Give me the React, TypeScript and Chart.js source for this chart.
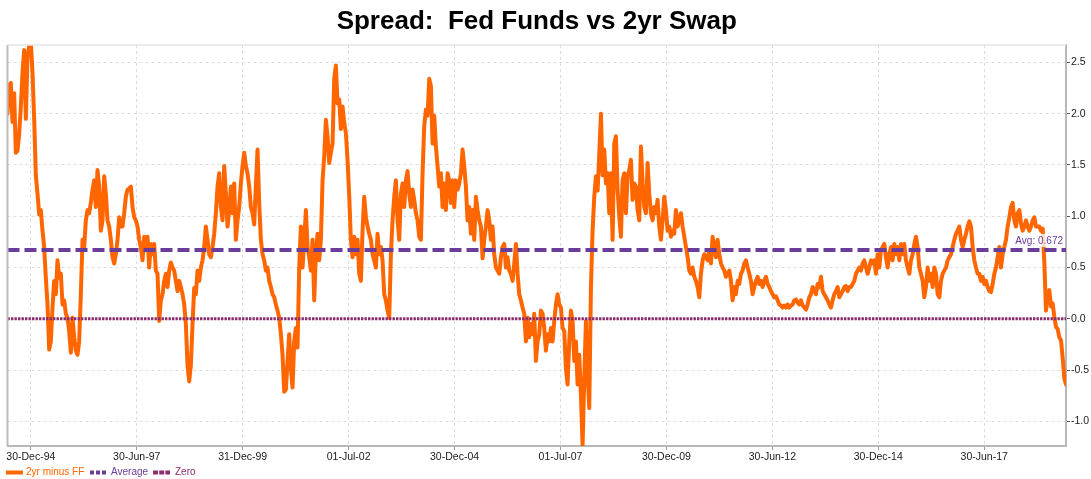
import React, { useEffect, useRef } from "react";
import { Chart, registerables } from "chart.js";

Chart.register(...registerables);

const TITLE = "Spread:  Fed Funds vs 2yr Swap";
const SERIES_LABELS = ["2yr minus FF", "Average", "Zero"];
const SERIES_COLORS = ["#ff6600", "#6a3d9a", "#8c2d6e"];

// x axis expressed in fractional years
const X_START = 1994.45;
const X_END = 2019.43;
const TICK_POSITIONS = [1995.0, 1997.5, 2000.0, 2002.5, 2005.0, 2007.5, 2010.0, 2012.5, 2015.0, 2017.5];
const TICK_LABELS = ["30-Dec-94", "30-Jun-97", "31-Dec-99", "01-Jul-02", "30-Dec-04", "01-Jul-07", "30-Dec-09", "30-Jun-12", "30-Dec-14", "30-Jun-17"];

const Y_MIN = -1.24;
const Y_MAX = 2.67;
const Y_TICKS = [-1.0, -0.5, 0.0, 0.5, 1.0, 1.5, 2.0, 2.5];

const AVERAGE = 0.672;
const ZERO = 0;

// 2yr swap minus fed funds, sampled evenly through time
const SPREAD_1994_1998 = [
  2.00, 2.28, 2.30, 1.92, 2.20, 1.62, 1.64, 1.80, 2.07, 2.40,
  2.62, 1.95, 2.55, 2.66, 2.69, 2.40, 1.95, 1.40, 1.22, 1.02,
  1.06, 0.86, 0.70, 0.40, 0.14, -0.30, -0.22, 0.11, 0.37, 0.24,
  0.57, 0.40, 0.44, 0.14, 0.18, 0.05, 0.01, -0.12, -0.33, 0.01,
  -0.18, -0.31, -0.35, -0.22, 0.24, 0.77, 0.70, 0.96, 1.06, 1.03,
  1.13, 1.26, 1.35, 1.09, 1.45, 1.29, 0.86, 0.96, 1.39, 1.22,
  0.96, 0.90, 0.77, 0.60, 0.54, 0.63, 0.77, 0.99, 0.90, 0.90,
  1.03, 1.19, 1.26, 1.27, 1.29, 1.09, 0.99, 0.96, 0.90, 0.77,
  0.70, 0.57, 0.80, 0.67, 0.80, 0.50, 0.73, 0.63, 0.73, 0.47,
  0.44, -0.02, 0.18, 0.24, 0.37, 0.44, 0.31, 0.47, 0.55, 0.50,
];

const SPREAD_1998_2002 = [
  0.47, 0.37, 0.27, 0.37, 0.31, 0.24, 0.14, -0.05, -0.45, -0.61,
  -0.45, -0.05, 0.30, 0.24, 0.47, 0.37, 0.50, 0.57, 0.70, 0.90,
  0.77, 0.63, 0.60, 0.70, 0.83, 1.03, 1.29, 1.42, 1.09, 0.96,
  1.49, 1.22, 0.90, 1.06, 1.29, 1.03, 1.32, 0.77, 0.96, 1.09,
  1.32, 1.49, 1.62, 1.49, 1.42, 1.29, 1.09, 1.03, 0.92, 1.30,
  1.65, 1.13, 0.77, 0.63, 0.57, 0.47, 0.50, 0.37, 0.31, 0.24,
  0.21, 0.14, 0.08, 0.01, -0.15, -0.35, -0.71, -0.69, -0.41, -0.15,
  -0.48, -0.67, -0.22, -0.09, -0.28, 0.50, 0.90, 0.50, 0.77, 1.06,
  0.70, 0.60, 0.47, 0.77, 0.18, 0.63, 0.83, 0.57, 0.77, 1.35,
  1.58, 1.94, 1.78, 1.52, 1.62, 1.71, 2.34, 2.47, 2.10, 2.14,
  1.85, 2.07, 1.91, 1.81, 1.55,
];

const SPREAD_2002_2006 = [
  1.20, 0.77, 0.60, 0.80, 0.63, 0.77, 0.44, 0.37, 0.86, 1.19,
  0.99, 0.90, 0.83, 0.77, 0.63, 0.57, 0.50, 0.83, 0.63, 0.70,
  0.57, 0.24, 0.18, 0.08, 0.01, 0.63, 0.96, 1.19, 1.35, 0.96,
  0.77, 1.22, 1.32, 1.09, 1.35, 1.44, 1.22, 1.09, 1.26, 1.16,
  1.03, 0.96, 0.80, 0.77, 1.42, 1.88, 2.04, 1.98, 2.34, 2.27,
  1.71, 1.98, 1.68, 1.49, 1.29, 1.42, 1.09, 1.32, 1.06, 1.42,
  1.35, 1.13, 1.35, 1.09, 1.35, 1.26, 1.32, 1.42, 1.65, 1.49,
  1.29, 0.96, 1.09, 0.83, 1.06, 0.77, 1.19, 1.06, 0.96, 0.90,
  0.59, 0.77, 0.90, 1.06, 0.96, 0.77, 0.90, 0.63, 0.50, 0.47,
  0.44, 0.60, 0.70, 0.73, 0.50, 0.60, 0.47, 0.44, 0.37, 0.54,
  0.73, 0.44, 0.24, 0.18, 0.11,
];

const SPREAD_2006_2010 = [
  0.05, -0.22, 0.01, -0.18, -0.05, -0.15, 0.05, -0.41, -0.22, -0.15,
  0.08, 0.05, -0.09, -0.31, -0.15, -0.22, -0.09, -0.22, -0.02, 0.14,
  0.24, 0.14, 0.11, -0.09, -0.12, -0.48, -0.64, -0.22, 0.08, -0.02,
  -0.41, -0.22, -0.64, -0.35, -0.74, -1.24, -0.58, -0.02, -0.54, -0.87,
  0.30, 0.86, 1.19, 1.39, 1.25, 1.60, 2.00, 1.40, 1.65, 1.32,
  1.42, 1.03, 1.42, 0.77, 1.71, 1.78, 1.26, 1.00, 0.80, 1.35,
  1.42, 1.03, 1.39, 1.45, 1.55, 1.16, 1.32, 1.29, 1.06, 0.96,
  1.68, 1.32, 1.09, 1.03, 1.52, 1.22, 1.03, 0.96, 1.09, 1.03,
  1.16, 0.90, 0.77, 0.96, 1.19, 1.06, 0.86, 0.90, 0.80, 0.86,
  0.83, 1.06, 0.90, 0.96, 1.03, 0.90, 0.80, 0.70, 0.60, 0.47,
  0.44, 0.50, 0.41, 0.37, 0.31,
];

const SPREAD_2010_2014 = [
  0.21, 0.44, 0.57, 0.63, 0.60, 0.57, 0.67, 0.54, 0.80, 0.70,
  0.60, 0.77, 0.63, 0.54, 0.50, 0.47, 0.41, 0.44, 0.47, 0.37,
  0.18, 0.31, 0.24, 0.37, 0.34, 0.44, 0.47, 0.54, 0.57, 0.50,
  0.44, 0.37, 0.24, 0.31, 0.37, 0.41, 0.34, 0.37, 0.31, 0.37,
  0.41, 0.34, 0.31, 0.27, 0.24, 0.21, 0.22, 0.18, 0.14, 0.13,
  0.11, 0.13, 0.11, 0.14, 0.11, 0.13, 0.14, 0.18, 0.19, 0.16,
  0.14, 0.18, 0.13, 0.11, 0.09, 0.14, 0.21, 0.24, 0.31, 0.27,
  0.24, 0.34, 0.31, 0.41, 0.27, 0.24, 0.21, 0.18, 0.14, 0.11,
  0.18, 0.24, 0.27, 0.31, 0.21, 0.24, 0.27, 0.31, 0.32, 0.27,
  0.31, 0.31, 0.34, 0.37, 0.44, 0.47, 0.50, 0.47, 0.54, 0.57,
  0.50, 0.44, 0.50, 0.57, 0.54,
];

const SPREAD_2014_2018 = [
  0.57, 0.44, 0.63, 0.50, 0.67, 0.70, 0.73, 0.60, 0.50, 0.63,
  0.70, 0.57, 0.73, 0.63, 0.70, 0.57, 0.73, 0.63, 0.73, 0.57,
  0.50, 0.44, 0.57, 0.63, 0.73, 0.80, 0.70, 0.50, 0.44, 0.37,
  0.21, 0.31, 0.50, 0.37, 0.44, 0.31, 0.50, 0.44, 0.24, 0.21,
  0.37, 0.44, 0.47, 0.50, 0.57, 0.60, 0.63, 0.70, 0.77, 0.83,
  0.86, 0.90, 0.77, 0.70, 0.77, 0.83, 0.90, 0.95, 0.90, 0.70,
  0.57, 0.50, 0.44, 0.44, 0.37, 0.41, 0.34, 0.37, 0.31, 0.27,
  0.26, 0.34, 0.44, 0.50, 0.60, 0.70, 0.50, 0.63, 0.70, 0.77,
  0.90, 0.99, 1.09, 1.13, 0.96, 0.90, 1.03, 1.06, 0.93, 0.86,
  0.90, 0.96, 0.90, 0.86, 0.90, 0.96, 0.99, 0.90, 0.90, 0.90,
  0.86, 0.88,
];

const SPREAD_2019 = [
  0.55, 0.08, 0.21, 0.28, 0.12, 0.15, 0.02, -0.08, -0.10, -0.18, -0.21, -0.38, -0.58, -0.64,
];

const FONT = '"Liberation Sans", Arial, Helvetica, sans-serif';

export default function App() {
  const canvasRef = useRef<HTMLCanvasElement | null>(null);

  useEffect(() => {
    if (!canvasRef.current) return;
    const spread = [
      ...SPREAD_1994_1998,
      ...SPREAD_1998_2002,
      ...SPREAD_2002_2006,
      ...SPREAD_2006_2010,
      ...SPREAD_2010_2014,
      ...SPREAD_2014_2018,
      ...SPREAD_2019,
    ];
    const n = spread.length;
    const step = (X_END - X_START) / (n - 1);
    const spreadPoints = spread.map((v, i) => ({ x: X_START + i * step, y: v }));

    const decorations = {
      id: "decorations",
      afterDraw(chart: any) {
        const ctx = chart.ctx as CanvasRenderingContext2D;
        const { left, right, top, bottom } = chart.chartArea;
        ctx.save();
        // left and top frame lines
        ctx.strokeStyle = "#bdbdbd";
        ctx.lineWidth = 2;
        ctx.beginPath();
        ctx.moveTo(left, top);
        ctx.lineTo(left, bottom);
        ctx.stroke();
        ctx.strokeStyle = "#e6e6e6";
        ctx.lineWidth = 1.5;
        ctx.beginPath();
        ctx.moveTo(left, top);
        ctx.lineTo(right, top);
        ctx.stroke();

        // title
        ctx.fillStyle = "#000";
        ctx.font = `bold 26px ${FONT}`;
        ctx.textAlign = "center";
        ctx.textBaseline = "alphabetic";
        ctx.fillText(TITLE, (left + right) / 2, 29);

        // average label
        const yAvg = chart.scales.y.getPixelForValue(AVERAGE);
        ctx.font = `10px ${FONT}`;
        ctx.textBaseline = "middle";
        const avgText = `Avg: ${AVERAGE.toFixed(3)}`;
        const tw = ctx.measureText(avgText).width;
        const tx = right - 3;
        ctx.fillStyle = "rgba(255,255,255,0.8)";
        ctx.fillRect(tx - tw - 3, yAvg - 16, tw + 5, 13);
        ctx.fillStyle = SERIES_COLORS[1];
        ctx.textAlign = "right";
        ctx.fillText(avgText, tx, yAvg - 9);

        // legend
        const ly = 472.5;
        const markers = [
          { x: 6, dash: [] as number[], w: 4 },
          { x: 90, dash: [4, 2], w: 4 },
          { x: 153, dash: [5, 1.2], w: 4 },
        ];
        const textX = [26, 111, 175];
        ctx.textAlign = "left";
        ctx.textBaseline = "middle";
        ctx.font = `10px ${FONT}`;
        markers.forEach((m, i) => {
          ctx.strokeStyle = SERIES_COLORS[i];
          ctx.lineWidth = m.w;
          ctx.setLineDash(m.dash);
          ctx.beginPath();
          ctx.moveTo(m.x, ly);
          ctx.lineTo(m.x + 17, ly);
          ctx.stroke();
          ctx.setLineDash([]);
          ctx.fillStyle = SERIES_COLORS[i];
          ctx.fillText(SERIES_LABELS[i], textX[i], ly);
        });
        ctx.restore();
      },
    };

    const chart = new Chart(canvasRef.current, {
      type: "line",
      data: {
        datasets: [
          {
            label: SERIES_LABELS[0],
            data: spreadPoints,
            borderColor: SERIES_COLORS[0],
            backgroundColor: SERIES_COLORS[0],
            borderWidth: 4,
            pointRadius: 0,
            tension: 0,
            borderJoinStyle: "round",
            borderCapStyle: "round",
            order: 3,
          },
          {
            label: SERIES_LABELS[1],
            data: [
              { x: X_START, y: AVERAGE },
              { x: X_END, y: AVERAGE },
            ],
            borderColor: SERIES_COLORS[1],
            borderWidth: 4,
            borderDash: [12, 5],
            pointRadius: 0,
            order: 2,
          },
          {
            label: SERIES_LABELS[2],
            data: [
              { x: X_START, y: ZERO },
              { x: X_END, y: ZERO },
            ],
            borderColor: SERIES_COLORS[2],
            borderWidth: 3,
            borderDash: [2.4, 1.1],
            pointRadius: 0,
            order: 1,
          },
        ],
      },
      options: {
        responsive: false,
        animation: false,
        devicePixelRatio: 1,
        layout: { padding: { top: 45, left: 7.5, right: 0, bottom: 0 } },
        plugins: {
          legend: { display: false },
          title: { display: false },
          tooltip: { enabled: false },
        },
        scales: {
          x: {
            type: "linear",
            min: X_START,
            max: X_END,
            afterBuildTicks: (s: any) => {
              s.ticks = TICK_POSITIONS.map((v) => ({ value: v }));
            },
            afterFit: (s: any) => {
              s.height = 33;
            },
            ticks: {
              autoSkip: false,
              maxRotation: 0,
              minRotation: 0,
              padding: 1,
              color: "#1a1a1a",
              font: { family: FONT, size: 10.5 },
              callback: (v: any) => {
                const idx = TICK_POSITIONS.findIndex((p) => Math.abs(p - Number(v)) < 1e-6);
                return idx >= 0 ? TICK_LABELS[idx] : "";
              },
            },
            grid: { color: "#dddddd", lineWidth: 1, tickLength: 4, tickColor: "#9a9a9a" },
            border: { display: true, color: "#b8b8b8", width: 2, dash: [3, 3] },
          },
          y: {
            type: "linear",
            position: "right",
            min: Y_MIN,
            max: Y_MAX,
            afterBuildTicks: (s: any) => {
              s.ticks = Y_TICKS.map((v) => ({ value: v }));
            },
            afterFit: (s: any) => {
              s.width = 25;
            },
            ticks: {
              padding: 1,
              color: "#222",
              font: { family: FONT, size: 10.5 },
              callback: (v: any) => Number(v).toFixed(1),
            },
            grid: { color: "#dddddd", lineWidth: 1, tickLength: 4, tickColor: "#555" },
            border: { display: true, color: "#b8b8b8", width: 2, dash: [3, 3] },
          },
        },
      },
      plugins: [decorations],
    } as any);

    return () => chart.destroy();
  }, []);

  return (
    <div style={{ position: "absolute", left: 0, top: 0, width: 1091, height: 479, background: "#fff" }}>
      <canvas ref={canvasRef} width={1091} height={479} style={{ display: "block" }} />
    </div>
  );
}
